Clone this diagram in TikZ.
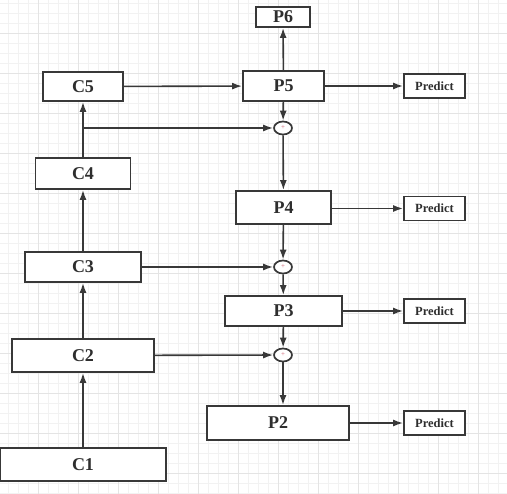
\documentclass[tikz,border=0pt]{standalone}
\usepackage{fontspec}
\setmainfont{Liberation Serif}
\usetikzlibrary{arrows.meta,shapes.geometric}
\definecolor{ln}{HTML}{383838}
\definecolor{txt}{HTML}{2E2E2E}
\definecolor{gmin}{HTML}{F2F2F2}
\definecolor{gmaj}{HTML}{E4E4E4}
\definecolor{plusred}{HTML}{D06070}
\tikzset{
  box/.style={draw=ln,line width=1.8pt,fill=white,inner sep=0pt,text=txt,font=\fontsize{18}{20}\selectfont\bfseries},
  predbox/.style={draw=ln,line width=1.8pt,fill=white,inner sep=0pt,minimum width=61pt,minimum height=24pt,text=txt,font=\fontsize{12.5}{14}\selectfont\bfseries},
  plusnode/.style={draw=ln,line width=1.7pt,fill=white,ellipse,inner sep=0pt,minimum width=18pt,minimum height=13pt,text=plusred,font=\fontsize{7}{7}\selectfont},
  arr/.style={draw=ln,line width=1.6pt,-{Latex[length=10pt,width=7pt]}},
}
\begin{document}
\begin{tikzpicture}[x=1pt,y=-1pt]
\useasboundingbox (0,0) rectangle (507,494);
\fill[white] (0,0) rectangle (507,494);
% grid
\foreach \i in {0,...,51}{\draw[gmin,line width=0.6pt] (\i*10-2,0) -- (\i*10-2,494);}
\foreach \j in {0,...,50}{\draw[gmin,line width=0.6pt] (0,\j*10+3) -- (507,\j*10+3);}
\foreach \i in {0,...,13}{\draw[gmaj,line width=0.7pt] (\i*40-2,0) -- (\i*40-2,494);}
\foreach \j in {0,...,12}{\draw[gmaj,line width=0.7pt] (0,\j*40-7) -- (507,\j*40-7);}
% C column
\node[box,minimum width=166pt,minimum height=33pt] (C1) at (83,464.5) {C1};
\node[box,minimum width=142pt,minimum height=33pt] (C2) at (83,355.5) {C2};
\node[box,minimum width=116pt,minimum height=30pt] (C3) at (83,267) {C3};
\node[box,minimum width=95pt,minimum height=31pt] (C4) at (83,173.5) {C4};
\node[box,minimum width=80pt,minimum height=29pt] (C5) at (83,86.5) {C5};
% P column
\node[box,minimum width=54pt,minimum height=20pt] (P6) at (283,17) {P6};
\node[box,minimum width=81pt,minimum height=30pt] (P5) at (283.5,86) {P5};
\node[plusnode] (S5) at (283,128) {+};
\node[box,minimum width=95pt,minimum height=33pt] (P4) at (283.5,207.5) {P4};
\node[plusnode] (S4) at (283,267) {+};
\node[box,minimum width=117pt,minimum height=30pt] (P3) at (283.5,311) {P3};
\node[plusnode] (S3) at (283,355) {+};
\node[box,minimum width=142pt,minimum height=34pt] (P2) at (278,423) {P2};
% predict
\node[predbox] (R5) at (434.5,86) {Predict};
\node[predbox] (R4) at (434.5,208.5) {Predict};
\node[predbox] (R3) at (434.5,311) {Predict};
\node[predbox] (R2) at (434.5,423) {Predict};
% bottom-up
\draw[arr] (C1) -- (C2);
\draw[arr] (C2) -- (C3);
\draw[arr] (C3) -- (C4);
\draw[arr] (C4) -- (C5);
\coordinate (B5) at (83,128);
% lateral
\draw[arr] (C5) -- (P5);
\draw[arr] (B5) -- (S5);
\draw[arr] (C3) -- (S4);
\draw[arr] (C2) -- (S3);
% top-down
\draw[arr] (P5) -- (P6);
\draw[arr] (P5) -- (S5);
\draw[arr] (S5) -- (P4);
\draw[arr] (P4) -- (S4);
\draw[arr] (S4) -- (P3);
\draw[arr] (P3) -- (S3);
\draw[arr] (S3) -- (S3 |- P2.north);
% predictions
\draw[arr] (P5) -- (R5);
\draw[arr] (P4.east |- R4) -- (R4);
\draw[arr] (P3) -- (R3);
\draw[arr] (P2) -- (R2);
\end{tikzpicture}
\end{document}
